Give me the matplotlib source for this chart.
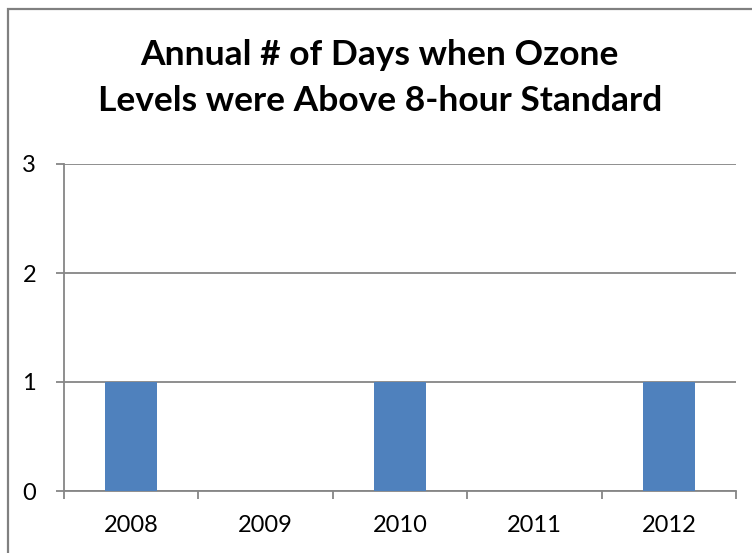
import matplotlib.pyplot as plt
import matplotlib.patches as patches
import numpy as np

years = ["2008", "2009", "2010", "2011", "2012"]
days = [1, 0, 1, 0, 1]
title_lines = ["Annual # of Days when Ozone", "Levels were Above 8-hour Standard"]

plt.rcParams['font.family'] = ['Lato', 'DejaVu Sans']

fig = plt.figure(figsize=(7.52, 5.53), dpi=100)
ax = fig.add_axes([64 / 752, 1 - 491 / 553, 672 / 752, 327 / 553])

x = np.arange(len(years))
ax.bar(x, days, width=0.39, color="#4f81bd", zorder=3)

ax.set_xlim(-0.5, len(years) - 0.5)
ax.set_ylim(0, 3)
ax.set_yticks([0, 1, 2, 3])
ax.set_yticklabels(["0", "1", "2", "3"], fontsize=17)
ax.set_xticks(x)
ax.set_xticklabels(years, fontsize=17)
ax.set_xticks(np.arange(-0.5, len(years)), minor=True)

gray = "#868686"
ax.grid(axis="y", color=gray, lw=1.3, zorder=0)
for s in ["top", "right"]:
    ax.spines[s].set_visible(False)
for s in ["left", "bottom"]:
    ax.spines[s].set_color(gray)
    ax.spines[s].set_linewidth(1.3)

ax.tick_params(axis="x", which="major", length=0, pad=17)
ax.tick_params(axis="x", which="minor", length=6, width=1.3, color=gray, direction="out")
ax.tick_params(axis="y", length=6, width=1.3, color=gray, pad=14)

# two title lines placed by baseline
for line, base in zip(title_lines, [65, 111]):
    fig.text(0.505, 1 - base / 553, line, ha="center", va="baseline", fontsize=25.5,
             fontweight="bold")

fig.patches.append(patches.Rectangle((8 / 752, -0.1), 1.2, 1.1 - 9 / 553,
                                     transform=fig.transFigure, fill=False,
                                     ec="#808080", lw=1.6))

fig.savefig("out.png", dpi=100)
